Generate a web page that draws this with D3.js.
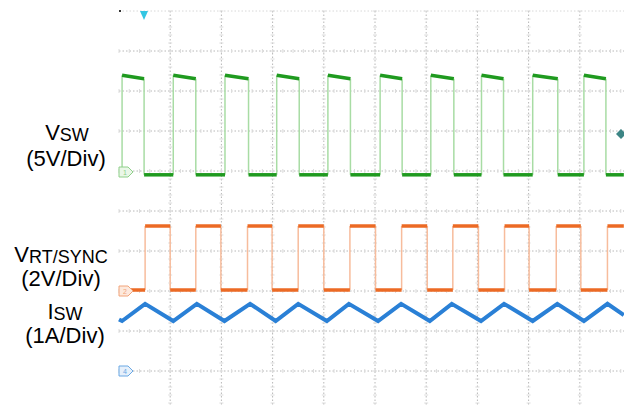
<!DOCTYPE html>
<html>
<head>
<meta charset="utf-8">
<script src="https://cdn.jsdelivr.net/npm/d3@7"></script>
<style>
body { margin: 0; background: #fff; }
text { font-family: Arial, "Liberation Sans", sans-serif; fill: #000; }
</style>
</head>
<body>
<script>
// time in divisions (10 div across screen)
var vswRise = [0.06, 1.06, 2.07, 3.08, 4.08, 5.10, 6.09, 7.08, 8.08, 9.08];
var vswFall = [0.49, 1.50, 2.53, 3.52, 4.52, 5.53, 6.54, 7.51, 8.57, 9.51];
var vswHigh = [12.1, 11.65]; // V, start and end of on-time (droop)
var vswLow = -0.35;

var syncRise = [0.51, 1.50, 2.51, 3.50, 4.51, 5.52, 6.52, 7.53, 8.54, 9.54];
var syncFall = [1.00, 1.99, 2.99, 4.00, 5.01, 6.02, 7.02, 8.01, 9.02];
var syncHigh = 3.25;
var syncLow = 0.05;

var iswT = [0, 0.06, 0.51, 1.06, 1.52, 2.06, 2.56, 3.06, 3.50, 4.06, 4.49, 5.06, 5.51, 6.07, 6.50, 7.07, 7.52, 8.08, 8.56, 9.08, 9.54, 9.86];
var iswA = [1.29, 1.25, 1.68, 1.25, 1.68, 1.25, 1.68, 1.25, 1.68, 1.25, 1.68, 1.25, 1.68, 1.25, 1.68, 1.25, 1.68, 1.25, 1.68, 1.25, 1.68, 1.40];

var tEnd = 9.86;

var W = 624, H = 405;
var svg = d3.select("body").append("svg")
    .attr("width", W)
    .attr("height", H);

var x = d3.scaleLinear().domain([0, 10]).range([119, 631]);
var yGrid = d3.scaleLinear().domain([0, 10]).range([11, 411]);
// per channel scales, 40px per division
var y1 = d3.scaleLinear().domain([0, 5]).range([172, 132]);
var y2 = d3.scaleLinear().domain([0, 2]).range([291, 251]);
var y4 = d3.scaleLinear().domain([0, 1]).range([371, 331]);

//сетка
var grid = svg.append("g");
d3.range(0, 10).forEach(function(i) {
    grid.append("line")
        .attr("x1", x(0)).attr("x2", W)
        .attr("y1", yGrid(i)).attr("y2", yGrid(i))
        .attr("stroke", i == 0 ? "#d8d8d8" : "#b8b8b8")
        .attr("stroke-dasharray", "1.5,2");
});
d3.range(1, 10).forEach(function(i) {
    grid.append("line")
        .attr("x1", x(i)).attr("x2", x(i))
        .attr("y1", yGrid(0)).attr("y2", H)
        .attr("stroke", "#b8b8b8")
        .attr("stroke-dasharray", "1.5,2");
});
// minor ticks on the grid lines
d3.range(1, 10).forEach(function(i) {
    d3.range(0, 50).forEach(function(k) {
        var yy = yGrid(k / 5);
        if (yy > H) return;
        grid.append("line")
            .attr("x1", x(i) - 2).attr("x2", x(i) + 2)
            .attr("y1", yy).attr("y2", yy)
            .attr("stroke", "#dcdcdc");
    });
});
d3.range(1, 10).forEach(function(i) {
    d3.range(0, 50).forEach(function(k) {
        var xx = x(k / 5);
        if (xx > W) return;
        grid.append("line")
            .attr("x1", xx).attr("x2", xx)
            .attr("y1", yGrid(i) - 2).attr("y2", yGrid(i) + 2)
            .attr("stroke", "#dcdcdc");
    });
});

function seg(g, x1, y1v, x2, y2v, color, w) {
    g.append("line")
        .attr("x1", x1).attr("y1", y1v)
        .attr("x2", x2).attr("y2", y2v)
        .attr("stroke", color)
        .attr("stroke-width", w);
}

//V_SW
var g1 = svg.append("g");
var edge1 = "#a8dca4", level1 = "#1f9a1f";
vswRise.forEach(function(r, i) {
    seg(g1, x(r), y1(vswLow), x(r), y1(vswHigh[0]), edge1, 1.5);
    seg(g1, x(vswFall[i]), y1(vswHigh[1]), x(vswFall[i]), y1(vswLow), edge1, 1.5);
});
var prev = 0;
vswRise.forEach(function(r, i) {
    seg(g1, x(prev), y1(vswLow), x(r), y1(vswLow), level1, 3.5);
    seg(g1, x(r), y1(vswHigh[0]), x(vswFall[i]), y1(vswHigh[1]), level1, 3.5);
    prev = vswFall[i];
});
seg(g1, x(prev), y1(vswLow), x(tEnd), y1(vswLow), level1, 3.5);

//V_RT/SYNC
var g2 = svg.append("g");
var edge2 = "#f7bc9c", level2 = "#ec6a24";
syncRise.forEach(function(r) {
    seg(g2, x(r), y2(syncLow), x(r), y2(syncHigh), edge2, 1.5);
});
syncFall.forEach(function(f) {
    seg(g2, x(f), y2(syncHigh), x(f), y2(syncLow), edge2, 1.5);
});
prev = 0;
syncRise.forEach(function(r, i) {
    seg(g2, x(prev), y2(syncLow), x(r), y2(syncLow), level2, 3.5);
    var f = i < syncFall.length ? syncFall[i] : tEnd;
    seg(g2, x(r), y2(syncHigh), x(f), y2(syncHigh), level2, 3.5);
    prev = f;
});

//I_SW
var iswData = iswT.map(function(t, i) { return [t, iswA[i]]; });
svg.append("path")
    .datum(iswData)
    .attr("d", d3.line().x(function(d) { return x(d[0]); }).y(function(d) { return y4(d[1]); }))
    .attr("fill", "none")
    .attr("stroke", "#2a80d6")
    .attr("stroke-width", 4)
    .attr("stroke-linejoin", "miter");

//маркеры каналов
function badge(yv, label, stroke, fill) {
    svg.append("path")
        .attr("d", "M119," + (yv - 5) + " h9 l5,5 l-5,5 h-9 z")
        .attr("fill", fill)
        .attr("stroke", stroke)
        .attr("stroke-width", 1);
    svg.append("text")
        .attr("x", 125).attr("y", yv + 3)
        .attr("text-anchor", "middle")
        .style("font-size", "7px")
        .style("fill", stroke)
        .text(label);
}
badge(y1(0), "1", "#8fd08a", "#eaf7e8");
badge(y2(0), "2", "#f2a47a", "#fde9dd");
badge(y4(0), "4", "#6aa8e4", "#e6f0fb");

// trigger marker
svg.append("path")
    .attr("d", "M140,11 L148,11 L144,20 Z")
    .attr("fill", "#33c6e2");
svg.append("rect")
    .attr("x", 119).attr("y", 10).attr("width", 2).attr("height", 2)
    .attr("fill", "#333");
// trigger level marker on right
svg.append("path")
    .attr("d", "M616,134 L621,129 L626,134 L621,139 Z")
    .attr("fill", "#3d8585");

//подписи
function label(cx, by, main, sub) {
    var t = svg.append("text")
        .attr("x", cx).attr("y", by)
        .attr("text-anchor", "middle")
        .style("font-size", "22px");
    t.append("tspan").text(main);
    if (sub) {
        t.append("tspan")
            .attr("dy", 1)
            .style("font-size", "18px")
            .text(sub);
    }
}
label(67, 140, "V", "SW");
label(66, 166, "(5V/Div)");
label(61, 262, "V", "RT/SYNC");
label(61, 286, "(2V/Div)");
label(65, 319, "I", "SW");
label(65, 343, "(1A/Div)");
</script>
</body>
</html>
